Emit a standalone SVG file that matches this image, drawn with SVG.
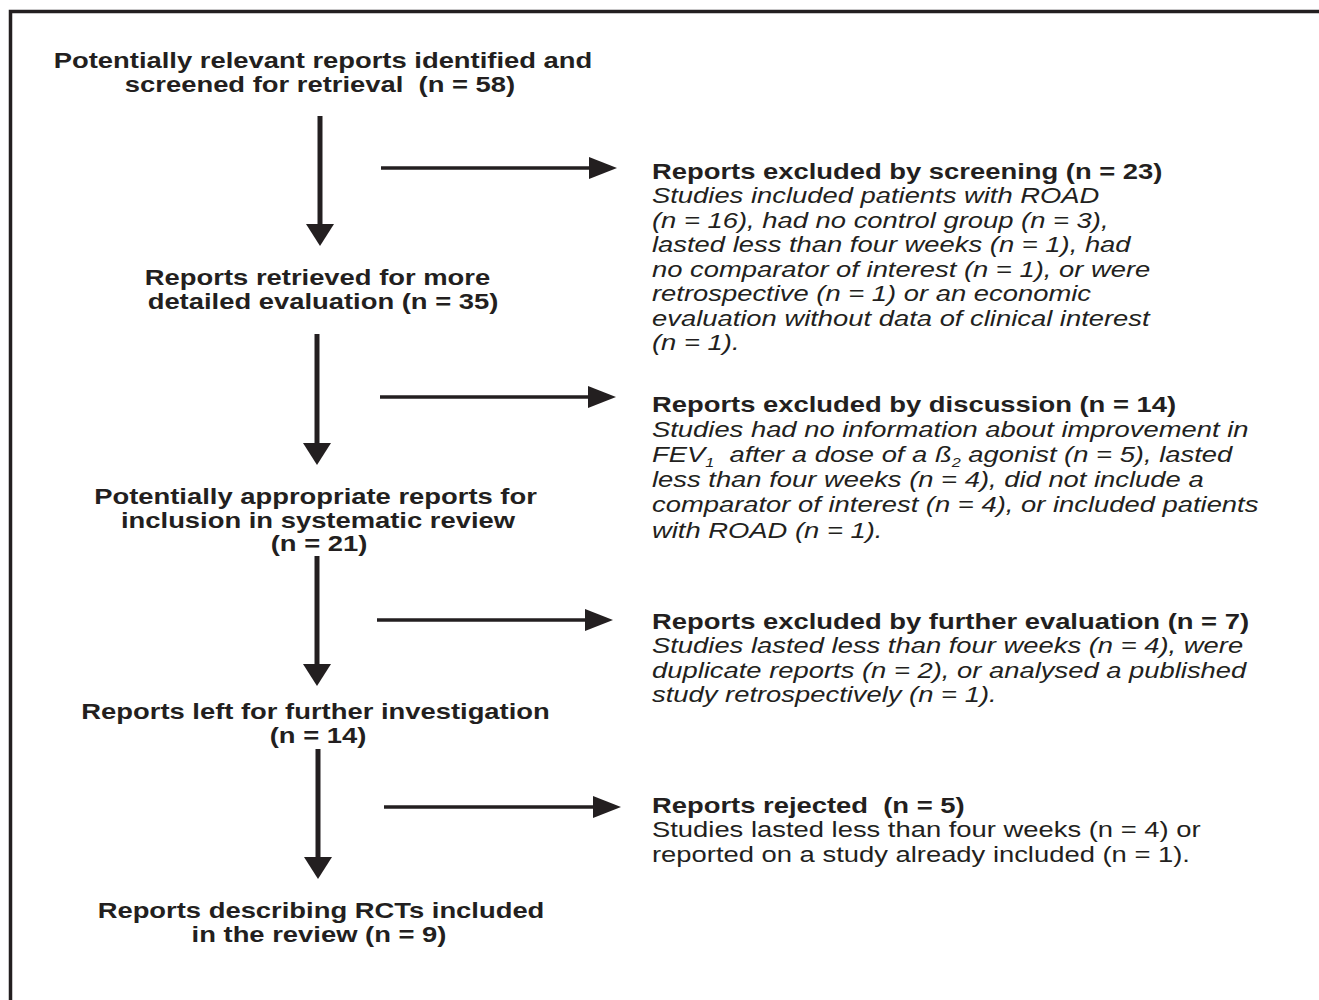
<svg xmlns="http://www.w3.org/2000/svg" width="1319" height="1000" viewBox="0 0 1319 1000">
<style>
  text { font-family: "Liberation Sans", Arial, Helvetica, sans-serif; font-size: 22px; fill: #231f20; }
  .b { font-weight: bold; }
  .i { font-style: italic; }
  .c { text-anchor: middle; }
  .pre { white-space: pre; }
  .sub { font-size: 13px; }
  .shaft { stroke: #231f20; stroke-width: 5; fill: none; }
  .side { stroke: #231f20; stroke-width: 3.5; fill: none; }
  .frame { stroke: #231f20; stroke-width: 3.5; fill: none; }
</style>
<defs>
  <marker id="headV" markerUnits="userSpaceOnUse" markerWidth="24" markerHeight="28" refX="2" refY="14" orient="auto">
    <path d="M0,0 L22,14 L0,28 Z" fill="#231f20"/>
  </marker>
  <marker id="headH" markerUnits="userSpaceOnUse" markerWidth="30" markerHeight="22" refX="2" refY="11" orient="auto">
    <path d="M0,0 L28,11 L0,22 Z" fill="#231f20"/>
  </marker>
</defs>
<rect width="1319" height="1000" fill="#ffffff"/>
<path class="frame" d="M10.5,1000 V11.5 H1319"/>

<g id="connectors">
  <line class="shaft" x1="320" y1="116" x2="320" y2="226" marker-end="url(#headV)"/>
  <line class="shaft" x1="317" y1="334" x2="317" y2="445" marker-end="url(#headV)"/>
  <line class="shaft" x1="317" y1="556" x2="317" y2="666" marker-end="url(#headV)"/>
  <line class="shaft" x1="318" y1="749" x2="318" y2="859" marker-end="url(#headV)"/>
  <line class="side" x1="381" y1="168" x2="591" y2="168" marker-end="url(#headH)"/>
  <line class="side" x1="380" y1="397" x2="590" y2="397" marker-end="url(#headH)"/>
  <line class="side" x1="377" y1="620" x2="587" y2="620" marker-end="url(#headH)"/>
  <line class="side" x1="384" y1="807" x2="595" y2="807" marker-end="url(#headH)"/>
</g>

<g id="node-identified" transform="translate(320,0) scale(1.245,1)">
  <text class="b c" x="2.4" y="68">Potentially relevant reports identified and</text>
  <text class="b c pre" x="0" y="92">screened for retrieval  (n = 58)</text>
</g>
<g id="node-retrieved" transform="translate(320,0) scale(1.245,1)">
  <text class="b c" x="-2" y="285">Reports retrieved for more</text>
  <text class="b c" x="2.4" y="309">detailed evaluation (n = 35)</text>
</g>
<g id="node-appropriate" transform="translate(320,0) scale(1.245,1)">
  <text class="b c" x="-3.6" y="504">Potentially appropriate reports for</text>
  <text class="b c" x="-1.6" y="528">inclusion in systematic review</text>
  <text class="b c" x="-0.8" y="551">(n = 21)</text>
</g>
<g id="node-left" transform="translate(320,0) scale(1.245,1)">
  <text class="b c" x="-3.6" y="719">Reports left for further investigation</text>
  <text class="b c" x="-1.6" y="743">(n = 14)</text>
</g>
<g id="node-included" transform="translate(320,0) scale(1.245,1)">
  <text class="b c" x="0.8" y="918">Reports describing RCTs included</text>
  <text class="b c" x="-0.8" y="942">in the review (n = 9)</text>
</g>

<g id="node-excl-screening" transform="translate(652,0) scale(1.245,1)">
  <text class="b" x="0" y="179">Reports excluded by screening (n = 23)</text>
  <text class="i" x="0" y="203.5">Studies included patients with ROAD</text>
  <text class="i" x="0" y="228">(n = 16), had no control group (n = 3),</text>
  <text class="i" x="0" y="252.5">lasted less than four weeks (n = 1), had</text>
  <text class="i" x="0" y="277">no comparator of interest (n = 1), or were</text>
  <text class="i" x="0" y="301.5">retrospective (n = 1) or an economic</text>
  <text class="i" x="0" y="326">evaluation without data of clinical interest</text>
  <text class="i" x="0" y="350.5">(n = 1).</text>
</g>
<g id="node-excl-discussion" transform="translate(652,0) scale(1.245,1)">
  <text class="b" x="0" y="412">Reports excluded by discussion (n = 14)</text>
  <text class="i" x="0" y="437">Studies had no information about improvement in</text>
  <text class="i pre" x="0" y="462">FEV<tspan class="sub" dy="5">1</tspan><tspan dy="-5">  after a dose of a ß</tspan><tspan class="sub" dy="5">2</tspan><tspan dy="-5"> agonist (n = 5), lasted</tspan></text>
  <text class="i" x="0" y="487">less than four weeks (n = 4), did not include a</text>
  <text class="i" x="0" y="512.5">comparator of interest (n = 4), or included patients</text>
  <text class="i" x="0" y="538">with ROAD (n = 1).</text>
</g>
<g id="node-excl-further" transform="translate(652,0) scale(1.245,1)">
  <text class="b" x="0" y="629">Reports excluded by further evaluation (n = 7)</text>
  <text class="i" x="0" y="653.5">Studies lasted less than four weeks (n = 4), were</text>
  <text class="i" x="0" y="678">duplicate reports (n = 2), or analysed a published</text>
  <text class="i" x="0" y="702.5">study retrospectively (n = 1).</text>
</g>
<g id="node-rejected" transform="translate(652,0) scale(1.245,1)">
  <text class="b pre" x="0" y="813">Reports rejected  (n = 5)</text>
  <text x="0" y="837.5">Studies lasted less than four weeks (n = 4) or</text>
  <text x="0" y="862">reported on a study already included (n = 1).</text>
</g>
</svg>
